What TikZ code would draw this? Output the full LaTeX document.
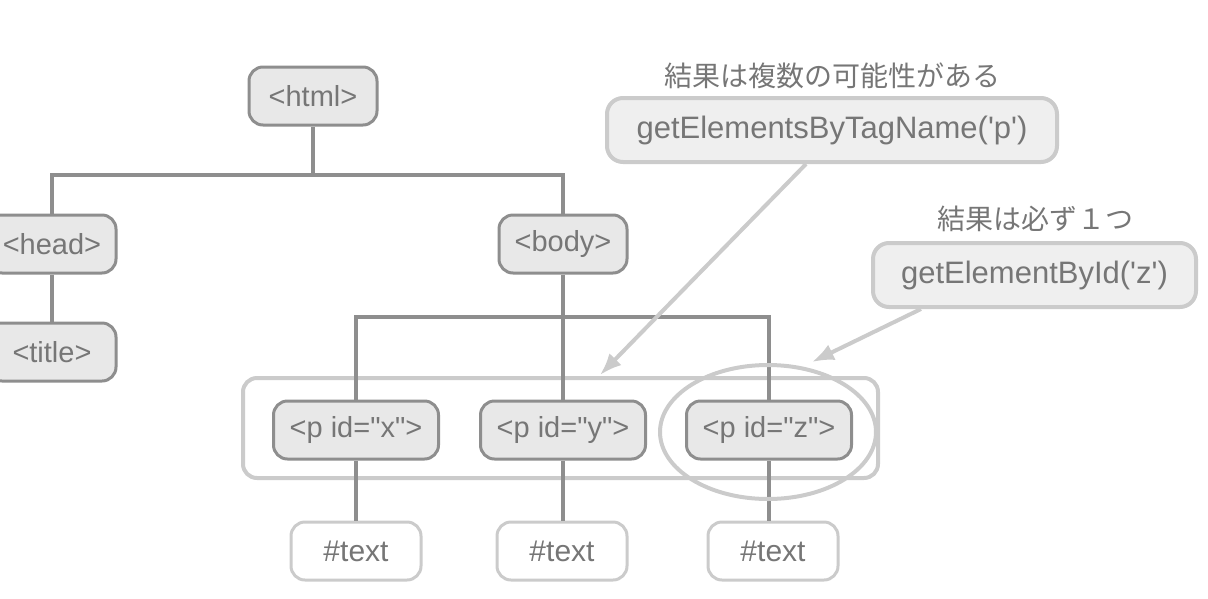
\documentclass[tikz,border=0pt]{standalone}
\usepackage{fontspec}
\newfontfamily\lsans{Liberation Sans}
\newfontfamily\jp{Noto Sans CJK JP}
\usetikzlibrary{arrows.meta,shapes.geometric}
\definecolor{txt}{HTML}{767676}
\definecolor{dk}{HTML}{8E8E8E}
\definecolor{nodefill}{HTML}{E8E8E8}
\definecolor{lt}{HTML}{CBCBCB}
\definecolor{funcfill}{HTML}{EFEFEF}
\tikzset{
  tag/.style={draw=dk, fill=nodefill, line width=3pt, rounded corners=14pt,
    minimum width=128pt, minimum height=58pt, inner sep=0pt, text=txt,
    font=\lsans\fontsize{29}{32}\selectfont},
  ptag/.style={tag, minimum width=165pt},
  textbox/.style={tag, draw=lt, fill=white, minimum width=130pt,
    font=\lsans\fontsize{30}{33}\selectfont},
  func/.style={draw=lt, fill=funcfill, line width=4pt, rounded corners=16pt,
    minimum height=64pt, inner sep=0pt, text=txt, font=\lsans\fontsize{31}{34}\selectfont},
  jplabel/.style={text=txt, font=\jp\fontsize{28}{31}\selectfont, inner sep=0pt},
  conn/.style={draw=dk, line width=4pt},
  group/.style={draw=lt, line width=4pt, rounded corners=14pt, inner sep=0pt},
  arr/.style={draw=lt, line width=4pt, -{Latex[length=22pt,width=17pt]}}
}
\begin{document}
\begin{tikzpicture}[x=1pt,y=-1pt]
\useasboundingbox (0,0) rectangle (1208,598);
% group rectangle (behind)
\node[group, minimum width=635pt, minimum height=100pt] (grp) at (560.5,428) {};
% tree nodes
\node[tag] (html) at (313,96) {<html>};
\node[tag] (head) at (52,244) {<head>};
\node[tag] (title) at (52,352) {<title>};
\node[tag] (body) at (563,244) {<body>};
\coordinate (j1) at (313,175);
\coordinate (j2) at (563,317);
\draw[conn] (html.south) -- (j1);
\draw[conn] (head.north) -- (head.north |- j1) -- (body.north |- j1) -- (body.north);
\draw[conn] (head.south) -- (title.north);
\node[ptag] (px) at (356,430) {<p id="x">};
\node[ptag] (py) at (563,430) {<p id="y">};
\node[ptag] (pz) at (769,430) {<p id="z">};
\node[textbox] (tx) at (356,551) {\#text};
\node[textbox] (ty) at (562,551) {\#text};
\node[textbox] (tz) at (773,551) {\#text};
\draw[conn] (body.south) -- (j2);
\draw[conn] (px.north) -- (px.north |- j2) -- (pz.north |- j2) -- (pz.north);
\draw[conn] (j2) -- (py.north);
\draw[conn] (px.south) -- (px.south |- tx.north);
\draw[conn] (py.south) -- (py.south |- ty.north);
\draw[conn] (pz.south) -- (pz.south |- tz.north);
\node[ellipse, draw=lt, line width=4pt, minimum width=216pt, minimum height=134pt, inner sep=0pt] (sel) at (768,432) {};
% functions
\node[func, minimum width=450pt] (f1) at (832,130) {getElementsByTagName('p')};
\node[jplabel] (l1) at (832,76) {結果は複数の可能性がある};
\node[func, minimum width=323pt] (f2) at (1034.5,275) {getElementById('z')};
\node[jplabel] (l2) at (1035,219) {結果は必ず１つ};
\coordinate (a1) at (600,375);
\coordinate (a2) at (812,362);
\draw[arr] ([xshift=201pt]f1.south west) -- (a1);
\draw[arr] ([xshift=50pt]f2.south west) -- (a2);
\end{tikzpicture}
\end{document}
